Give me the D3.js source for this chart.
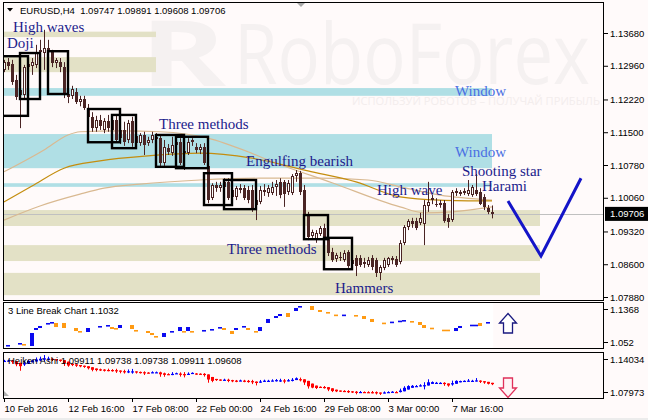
<!DOCTYPE html>
<html><head><meta charset="utf-8">
<script src="https://cdn.jsdelivr.net/npm/d3@7"></script>
<style>body{margin:0;background:#fffafa;}svg{display:block;}</style>
</head><body><svg id="c" width="648" height="420"></svg>
<script>
// ---------------- DATA ----------------
const symbolTitle = "EURUSD,H4  1.09747 1.09891 1.09608 1.09706";
// H4 candles: [open, high, low, close], bar 0 = 10 Feb 2016 00:00
const ohlc = [
[1.1287,1.1309,1.1282,1.1304],[1.1304,1.1313,1.1287,1.1295],[1.1300,1.1309,1.1254,1.1260],[1.1265,1.1276,1.1221,1.1227],
[1.1232,1.1254,1.1159,1.1243],[1.1232,1.1298,1.1225,1.1293],[1.1293,1.1309,1.1282,1.1300],[1.1295,1.1313,1.1276,1.1304],
[1.1298,1.1342,1.1291,1.1326],[1.1326,1.1353,1.1287,1.1331],[1.1324,1.1375,1.1287,1.1335],[1.1335,1.1353,1.1298,1.1326],
[1.1326,1.1331,1.1293,1.1302],[1.1302,1.1313,1.1291,1.1309],[1.1304,1.1313,1.1282,1.1293],[1.1293,1.1304,1.1225,1.1234],
[1.1234,1.1247,1.1214,1.1227],[1.1230,1.1252,1.1223,1.1245],[1.1238,1.1247,1.1212,1.1216],[1.1216,1.1230,1.1207,1.1223],
[1.1223,1.1230,1.1199,1.1203],[1.1203,1.1212,1.1177,1.1184],[1.1184,1.1194,1.1151,1.1159],[1.1159,1.1186,1.1151,1.1177],
[1.1177,1.1188,1.1155,1.1164],[1.1155,1.1181,1.1148,1.1175],[1.1175,1.1188,1.1151,1.1159],[1.1155,1.1181,1.1146,1.1177],
[1.1177,1.1186,1.1129,1.1133],[1.1137,1.1164,1.1124,1.1155],[1.1155,1.1173,1.1120,1.1129],[1.1133,1.1177,1.1126,1.1170],
[1.1175,1.1184,1.1118,1.1126],[1.1126,1.1151,1.1120,1.1142],[1.1126,1.1148,1.1120,1.1144],[1.1144,1.1151,1.1100,1.1122],
[1.1126,1.1140,1.1120,1.1133],[1.1133,1.1151,1.1126,1.1144],[1.1140,1.1148,1.1129,1.1135],[1.1137,1.1146,1.1076,1.1082],
[1.1082,1.1133,1.1076,1.1118],[1.1115,1.1124,1.1100,1.1107],[1.1104,1.1140,1.1098,1.1122],[1.1122,1.1133,1.1115,1.1129],
[1.1129,1.1137,1.1078,1.1082],[1.1107,1.1140,1.1067,1.1109],[1.1104,1.1137,1.1100,1.1129],[1.1129,1.1137,1.1120,1.1133],
[1.1118,1.1126,1.1104,1.1111],[1.1111,1.1124,1.1102,1.1118],[1.1118,1.1126,1.1078,1.1082],[1.1076,1.1082,1.0994,1.1001],
[1.1005,1.1038,1.1001,1.1034],[1.1034,1.1041,1.1019,1.1027],[1.1027,1.1041,1.1019,1.1034],[1.1030,1.1049,1.1023,1.1041],
[1.1041,1.1049,1.1001,1.1005],[1.1008,1.1034,1.1001,1.1023],[1.1008,1.1032,1.1001,1.1027],[1.1027,1.1036,1.1016,1.1023],
[1.1027,1.1034,1.1001,1.1005],[1.1023,1.1032,1.0994,1.1001],[1.1023,1.1034,1.0975,1.0979],[1.0990,1.1012,1.0957,1.1001],
[1.0997,1.1032,1.0992,1.1023],[1.1023,1.1036,1.1010,1.1019],[1.1016,1.1034,1.1008,1.1027],[1.1016,1.1041,1.1012,1.1030],
[1.1030,1.1045,1.1010,1.1036],[1.1041,1.1049,1.1005,1.1012],[1.1041,1.1045,1.0986,1.1014],[1.1019,1.1045,1.1012,1.1038],
[1.1016,1.1058,1.1012,1.1054],[1.1054,1.1067,1.1041,1.1060],[1.1060,1.1065,1.1012,1.1019],[1.1023,1.1034,1.0964,1.0970],
[1.0970,1.0975,1.0913,1.0920],[1.0922,1.0936,1.0918,1.0931],[1.0913,1.0935,1.0907,1.0929],[1.0927,1.0944,1.0922,1.0940],
[1.0940,1.0949,1.0913,1.0920],[1.0918,1.0924,1.0878,1.0885],[1.0887,1.0896,1.0865,1.0869],[1.0871,1.0885,1.0865,1.0880],
[1.0876,1.0887,1.0867,1.0874],[1.0869,1.0891,1.0865,1.0885],[1.0887,1.0891,1.0852,1.0856],[1.0860,1.0878,1.0852,1.0869],
[1.0874,1.0880,1.0834,1.0856],[1.0874,1.0880,1.0854,1.0858],[1.0860,1.0874,1.0852,1.0865],[1.0858,1.0876,1.0854,1.0869],
[1.0874,1.0880,1.0847,1.0854],[1.0869,1.0874,1.0832,1.0841],[1.0841,1.0858,1.0825,1.0854],[1.0852,1.0874,1.0847,1.0869],
[1.0858,1.0876,1.0854,1.0874],[1.0869,1.0878,1.0860,1.0874],[1.0871,1.0878,1.0854,1.0858],[1.0865,1.0913,1.0860,1.0907],
[1.0907,1.0946,1.0902,1.0942],[1.0942,1.0959,1.0935,1.0955],[1.0955,1.0962,1.0940,1.0948],[1.0955,1.0962,1.0935,1.0940],
[1.0951,1.0973,1.0946,1.0962],[1.0948,1.1001,1.0902,1.0990],[1.0988,1.1041,1.0975,1.0997],[1.1001,1.1012,1.0992,1.1005],
[1.0992,1.1005,1.0986,1.0990],[1.0990,1.1001,1.0984,1.0994],[1.0994,1.1001,1.0951,1.0955],[1.0962,1.0970,1.0940,1.0953],
[1.0957,1.1023,1.0953,1.1019],[1.1019,1.1027,1.1010,1.1021],[1.1016,1.1023,1.1010,1.1019],[1.1019,1.1027,1.1012,1.1021],
[1.1014,1.1045,1.1010,1.1023],[1.1012,1.1034,1.1008,1.1030],[1.1023,1.1058,1.1010,1.1014],[1.1019,1.1027,1.0990,1.0992],
[1.1008,1.1014,1.0979,1.0986],[1.0984,1.0990,1.0970,1.0975],[1.09747,1.09891,1.09608,1.09706]
];
const lastPrice = 1.09706;

// moving averages: [bar, price]
const maGold = [[0,1.0997],[7,1.1032],[15,1.1071],[24,1.1087],[36,1.1098],[49,1.1104],[62,1.1093],[76,1.1065],[88,1.1041],[99,1.1008],[109,1.1001],[122,1.0999]];
const maTanA = [[0,1.1063],[10,1.1111],[16,1.1144],[19,1.1151],[29,1.1153],[39,1.1151],[51,1.1137],[61,1.1107],[66,1.1089],[82,1.1039],[99,1.0986],[105,1.0973],[112,1.0975],[122,1.0986]];
const maTanB = [[0,1.0957],[9,1.0988],[19,1.1014],[25,1.1027],[34,1.1036],[49,1.1045],[64,1.1049],[79,1.1049],[91,1.1045],[99,1.1030],[109,1.1012],[122,1.1001]];

// zones: [fromBar, toBar, top price, bottom price, kind]
const zones = [
 [0,38,1.1371,1.1359,'k'],[0,38,1.1315,1.1282,'k'],
 [0,122,1.1247,1.1230,'c'],[0,122,1.1146,1.1071,'c'],[0,122,1.1038,1.1030,'c'],
 [0,134,1.0979,1.0944,'k'],[0,134,1.0902,1.0867,'k'],[0,134,1.0841,1.0792,'k']
];
// pattern boxes: [fromBar, toBar, high, low]
const boxes = [
 [-1,6,1.1317,1.1186],[4,9,1.1324,1.1223],[11,16,1.1328,1.1234],[21,29,1.1201,1.1128],[27,33,1.1188,1.1115],
 [38,45,1.1144,1.1074],[43,51,1.1140,1.1071],[50,57,1.1060,1.0990],[55,63,1.1045,1.0981],[75,81,1.0968,1.0915],[80,87,1.0918,1.0849]
];
// annotations: [text, bar, price(baseline), style]
const notes = [
 ['High waves',2.25,1.1370,'n'],['Doji',0.75,1.1335,'n'],['Three methods',38.75,1.1157,'n'],
 ['Engulfing bearish',60.5,1.1076,'n'],['High wave',93.25,1.1012,'n'],['Shooting star',114.5,1.1054,'n'],
 ['Harami',119.5,1.1021,'n'],['Window',112.75,1.1230,'w'],['Window',112.75,1.1096,'w'],
 ['Three methods',55.75,1.0882,'n'],['Hammers',82.75,1.0797,'n']
];
// forecast V: [bar, price]
const forecast = [[126,1.0999],[134.25,1.0878],[144.25,1.1049]];

// 3 Line Break bricks: [bar, open, close]
const lineBreak = [
 [1,1.0539,1.0559],[4,1.0578,1.0597],[5,1.0578,1.0559],[7,1.0539,1.0790],[8,1.0848,1.0886],[9,1.0886,1.0925],
 [11,1.0963,1.0983],[12,1.0983,1.1002],[13,1.0983,1.0905],[15,1.0983,1.0886],[18,1.0886,1.0828],[19,1.0828,1.0809],
 [21,1.0809,1.0886],[24,1.0905,1.0925],[26,1.0925,1.0944],[27,1.0905,1.0867],[28,1.0886,1.0867],[29,1.0886,1.0944],
 [32,1.0944,1.0867],[33,1.0848,1.0828],[36,1.0828,1.0790],[37,1.0790,1.0751],[38,1.0732,1.0713],[40,1.0713,1.0790],
 [42,1.0809,1.0828],[44,1.0828,1.0905],[45,1.0828,1.0809],[46,1.0828,1.0905],[47,1.0828,1.0809],[50,1.0828,1.0848],
 [52,1.0848,1.0867],[54,1.0886,1.0905],[55,1.0886,1.0848],[57,1.0828,1.0771],[58,1.0848,1.0886],[60,1.0905,1.0925],
 [61,1.0886,1.0848],[63,1.0828,1.0809],[64,1.0828,1.0905],[66,1.0983,1.1060],[68,1.1079,1.1117],[69,1.1117,1.1156],
 [71,1.1175,1.1098],[73,1.1214,1.1272],[74,1.1291,1.1310],[77,1.1310,1.1233],[79,1.1233,1.1195],[81,1.1195,1.1175],
 [83,1.1145,1.1130],[85,1.1130,1.1145],[88,1.1137,1.1117],[90,1.1117,1.1060],[92,1.1060,1.1002],[95,1.0990,1.0976],
 [97,1.0995,1.1009],[99,1.1014,1.1028],[100,1.1021,1.1040],[102,1.1021,1.1002],[104,1.1002,1.0944],[105,1.0944,1.0886],
 [107,1.0892,1.0880],[110,1.0854,1.0842],[111,1.0854,1.0842],[113,1.0828,1.0886],[114,1.0886,1.0925],
 [117,1.0938,1.0950],[118,1.0938,1.0950],[119,1.0983,1.0925],[121,1.0983,1.1002]
];
const lineBreakTitle = "3 Line Break Chart 1.1032";
const heikenTitle = "Heiken Ashi 1.09911 1.09738 1.09738 1.09911 1.09608";

// axes
const priceTicks = [1.1368,1.1296,1.1222,1.1150,1.1078,1.1006,1.0932,1.0860,1.0788];
const lbRange = [1.052,1.1368]; const lbLabels = ["1.052","1.1368"];
const haRange = [1.07973,1.14034];
const timeTickBars = [0,16,32,48,64,80,96,112];
const timeTickLabels = ["10 Feb 2016","12 Feb 16:00","17 Feb 08:00","22 Feb 00:00","24 Feb 16:00","29 Feb 08:00","3 Mar 00:00","7 Mar 16:00"];

// ---------------- DRAW ----------------
const svg = d3.select('#c');
const BG='#fffafa', DARK='#4a2424', AX='Liberation Sans', SERIF='Liberation Serif';
svg.append('rect').attr('width',648).attr('height',420).attr('fill',BG);
svg.append('rect').attr('y',418).attr('width',648).attr('height',2).attr('fill','#ececec');

const P1={t:2,b:300}, P2={t:302,b:348}, P3={t:352,b:398}, L=3, R=604;
const x = d3.scaleLinear().domain([0,150]).range([4,604]);
const y = d3.scaleLinear().domain([1.0788,1.1368]).range([297,33]);
const y2 = d3.scaleLinear().domain(lbRange).range([P2.b-1,P2.t+1]);
const y3 = d3.scaleLinear().domain(haRange).range([P3.b-1,P3.t+1]);

const defs = svg.append('defs');
[['cp1',P1],['cp2',P2],['cp3',P3]].forEach(([id,p])=>{
  defs.append('clipPath').attr('id',id).append('rect').attr('x',L).attr('y',p.t).attr('width',R-L).attr('height',p.b-p.t);
});

// ---- main panel ----
const g1 = svg.append('g').attr('clip-path','url(#cp1)');
// watermark
const WM='#f5f1f1';
g1.append('text').attr('x',140).attr('y',86).attr('font-family','Open Sans').attr('font-weight',700)
  .attr('font-size',92).attr('textLength',86).attr('lengthAdjust','spacingAndGlyphs').attr('fill',WM).text('R');
g1.append('text').attr('x',234).attr('y',84).attr('font-family','Open Sans').attr('font-size',84)
  .attr('textLength',356).attr('lengthAdjust','spacingAndGlyphs').attr('fill',WM).text('RoboForex');
g1.append('text').attr('x',352).attr('y',105).attr('font-family','Open Sans').attr('font-size',11)
  .attr('textLength',248).attr('lengthAdjust','spacingAndGlyphs').attr('fill','#f3eded').text('ИСПОЛЬЗУЙ РОБОТОВ – ПОЛУЧАЙ ПРИБЫЛЬ');

// zones
g1.selectAll('rect.zone').data(zones).join('rect').attr('class','zone')
  .attr('x',d=>Math.max(L,x(d[0]))).attr('width',d=>x(d[1])-Math.max(L,x(d[0])))
  .attr('y',d=>y(d[2])).attr('height',d=>y(d[3])-y(d[2]))
  .attr('fill',d=>d[4]==='c'?'#b0dfe5':'#e3e1c6');
// current price line
g1.append('line').attr('x1',L).attr('x2',R).attr('y1',Math.round(y(lastPrice))+0.5).attr('y2',Math.round(y(lastPrice))+0.5)
  .attr('stroke','#c0c0c0').attr('stroke-width',1);

// moving averages
const maLine = d3.line().x(d=>x(d[0])).y(d=>y(d[1])).curve(d3.curveMonotoneX);
[[maTanB,'#d9b991'],[maTanA,'#d9b991'],[maGold,'#c48d0e']].forEach(([d,c])=>{
  g1.append('path').attr('d',maLine(d)).attr('fill','none').attr('stroke',c).attr('stroke-width',1.2);
});

// candles
const cg = g1.append('g');
ohlc.forEach((d,i)=>{
  const [o,h,l,c]=d, X=Math.round(x(i));
  cg.append('line').attr('x1',X+0.5).attr('x2',X+0.5).attr('y1',y(h)).attr('y2',y(l)).attr('stroke',DARK).attr('stroke-width',1);
  const top=Math.round(y(Math.max(o,c))), bot=Math.round(y(Math.min(o,c)));
  if(c>=o){
    cg.append('rect').attr('x',X-0.5).attr('y',top+0.5).attr('width',2).attr('height',Math.max(1,bot-top-1))
      .attr('fill','#ffffff').attr('stroke',DARK).attr('stroke-width',1);
  } else {
    cg.append('rect').attr('x',X-1).attr('y',top).attr('width',3).attr('height',Math.max(1,bot-top)).attr('fill',DARK);
  }
});

// boxes
g1.selectAll('rect.box').data(boxes).join('rect').attr('class','box')
  .attr('x',d=>x(d[0])).attr('width',d=>x(d[1])-x(d[0]))
  .attr('y',d=>y(d[2])).attr('height',d=>y(d[3])-y(d[2]))
  .attr('fill','none').attr('stroke','#000').attr('stroke-width',2.4);

// annotations
g1.selectAll('text.note').data(notes).join('text').attr('class','note')
  .attr('x',d=>x(d[1])).attr('y',d=>y(d[2])).attr('font-family',SERIF).attr('font-size',15)
  .attr('fill',d=>d[3]==='w'?'#4a6fe3':'#1c1c8c').text(d=>d[0]);

// forecast V
g1.append('path').attr('d',d3.line().x(d=>x(d[0])).y(d=>y(d[1]))(forecast))
  .attr('fill','none').attr('stroke','#1414c8').attr('stroke-width',3).attr('stroke-linejoin','miter');

// header
g1.append('path').attr('d','M7,8 L13,8 L10,11.5 Z').attr('fill','#000');
g1.append('text').attr('x',20).attr('y',14).attr('font-family',AX).attr('font-size',9.5).attr('fill','#000')
  .style('white-space','pre').text(symbolTitle);
svg.append('path').attr('d','M297,3 L305,3 L301,7 Z').attr('fill','#a8a8a8');

// ---- panel 2: 3 line break ----
const g2 = svg.append('g').attr('clip-path','url(#cp2)');
g2.append('rect').attr('x',L).attr('width',x(122.3)-L).attr('y',P2.t).attr('height',P2.b-P2.t).attr('fill','#ffffff');
g2.selectAll('rect.lb').data(lineBreak).join('rect').attr('class','lb')
  .attr('x',d=>Math.round(x(d[0]))-2).attr('width',4)
  .attr('y',d=>Math.min(y2(d[1]),y2(d[2]))).attr('height',d=>Math.max(1.6,Math.abs(y2(d[1])-y2(d[2]))))
  .attr('fill',d=>d[2]>d[1]?'#0a0af0':'#ff9a12');
g2.append('text').attr('x',8).attr('y',314).attr('font-family',AX).attr('font-size',9.5).attr('fill','#000').text(lineBreakTitle);
// up arrow
g2.append('path').attr('d','M508,313.5 L516.5,323 L512.5,323 L512.5,333 L503.5,333 L503.5,323 L499.5,323 Z')
  .attr('fill','#ffffff').attr('stroke','#1a1a80').attr('stroke-width',1.3);

// ---- panel 3: Heiken Ashi derived from candles ----
const g3 = svg.append('g').attr('clip-path','url(#cp3)');
const ha=[];
ohlc.forEach((d,i)=>{
  const [o,h,l,c]=d; const hc=(o+h+l+c)/4;
  const ho = i===0 ? (o+c)/2 : (ha[i-1].o+ha[i-1].c)/2;
  ha.push({o:ho,c:hc,h:Math.max(h,ho,hc),l:Math.min(l,ho,hc)});
});
ha.forEach((d,i)=>{
  const X=Math.round(x(i)), col = d.c>=d.o?'#0000ff':'#ff0000';
  g3.append('line').attr('x1',X+0.5).attr('x2',X+0.5).attr('y1',y3(d.h)).attr('y2',y3(d.l)).attr('stroke',col).attr('stroke-width',1);
  g3.append('rect').attr('x',X-1).attr('width',3).attr('y',Math.min(y3(d.o),y3(d.c))).attr('height',Math.max(1.2,Math.abs(y3(d.o)-y3(d.c)))).attr('fill',col);
});
g3.append('text').attr('x',8).attr('y',364).attr('font-family',AX).attr('font-size',9.5).attr('fill','#000').text(heikenTitle);
g3.append('path').attr('d','M3,390 L3,396 L9,396 Z').attr('fill','#b0b0b0');
// down arrow
g3.append('path').attr('d','M503.5,378 L512.5,378 L512.5,388 L516.5,388 L508,397.5 L499.5,388 L503.5,388 Z')
  .attr('fill','#fff4f6').attr('stroke','#e0305a').attr('stroke-width',1.3);

// ---- frames ----
[P1,P2,P3].forEach(p=>{
  svg.append('rect').attr('x',L+0.5).attr('y',p.t+0.5).attr('width',R-L-1).attr('height',p.b-p.t).attr('fill','none').attr('stroke','#000').attr('stroke-width',1);
});

// ---- axes ----
function styleAxis(g){
  g.select('.domain').remove();
  g.selectAll('line').attr('stroke','#000');
  g.selectAll('text').attr('font-family',AX).attr('font-size',9.5).attr('fill','#000');
}
svg.append('g').attr('transform',`translate(${R},0)`)
  .call(d3.axisRight(y).tickValues(priceTicks).tickFormat(d3.format('.5f')).tickSize(4).tickPadding(2))
  .call(styleAxis);
// sub-window scale labels sit just inside the window extremes (MT4 style)
function subLabels(sc, vals, labels){
  const pts=[[vals[1],labels[1],sc(vals[1])+6],[vals[0],labels[0],sc(vals[0])-5]];
  pts.forEach(([v,t,yy])=>{
    svg.append('line').attr('x1',R).attr('x2',R+4).attr('y1',Math.round(yy)+0.5).attr('y2',Math.round(yy)+0.5).attr('stroke','#000');
    svg.append('text').attr('x',R+6).attr('y',yy+3.5).attr('font-family',AX).attr('font-size',9.5).attr('fill','#000').text(t);
  });
}
subLabels(y2, lbRange, lbLabels);
subLabels(y3, haRange, haRange.map(d3.format('.5f')));
const xa = svg.append('g').attr('transform',`translate(0,${P3.b})`)
  .call(d3.axisBottom(x).tickValues(timeTickBars).tickFormat((d,i)=>timeTickLabels[i]).tickSize(4).tickPadding(3))
  .call(styleAxis);
xa.selectAll('text').attr('text-anchor','start').attr('dx',0);

// current price label
const cy = y(lastPrice);
svg.append('rect').attr('x',R+1).attr('y',cy-7).attr('width',44).attr('height',14).attr('fill','#000');
svg.append('text').attr('x',R+6).attr('y',cy+3.5).attr('font-family',AX).attr('font-size',9.5).attr('fill','#fff').text(d3.format('.5f')(lastPrice));
</script></body></html>
